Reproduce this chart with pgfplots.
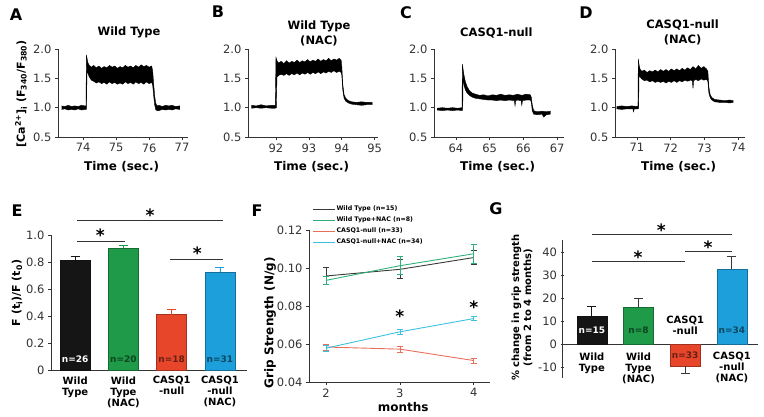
\documentclass[border=0pt]{standalone}
\usepackage{pgfplots}
\pgfplotsset{compat=1.18}
\usepackage{fontspec}
\setmainfont{DejaVu Sans}

\definecolor{barblack}{HTML}{151515}
\definecolor{bargreen}{HTML}{1E9A48}
\definecolor{barred}{HTML}{E8462A}
\definecolor{barblue}{HTML}{1D9FDB}
\definecolor{axgray}{HTML}{333333}
\definecolor{lnwt}{HTML}{3A3A3A}
\definecolor{lnnac}{HTML}{2FB07A}
\definecolor{lnko}{HTML}{E8705A}
\definecolor{lnkonac}{HTML}{3EC0E0}

\tikzset{
  sig/.style={axgray, line width=0.8pt},
  star/.style={font=\bfseries\fontsize{17}{17}\selectfont, inner sep=0pt},
  nlab/.style={font=\bfseries\fontsize{9}{10}\selectfont},
  catlab/.style={font=\bfseries\fontsize{10}{11}\selectfont, align=center, text=black},
}
\pgfplotsset{
  panel/.style={
    scale only axis, clip=false, enlargelimits=false,
    axis lines=left, axis line style={axgray, line width=0.8pt, -},
    tick style={axgray, line width=0.7pt}, tick align=outside, major tick length=3pt,
    tick label style={font=\fontsize{11.5}{12}\selectfont, text=black!80},
    /pgf/number format/assume math mode=true,
    label style={font=\bfseries\fontsize{12}{13}\selectfont},
  },
  trace/.style={
    panel, width=130pt, height=88pt, ymin=0.5, ymax=2.0,
    ytick={0.5,1.0,1.5,2.0},
    yticklabel style={/pgf/number format/.cd, fixed, fixed zerofill, precision=1},
    xlabel={Time (sec.)},
    xlabel style={at={(axis description cs:0.49,-0.34)}, anchor=center},
    every axis title shift=0pt,
    title style={font=\bfseries\fontsize{11.5}{15}\selectfont, align=center, anchor=center, yshift=-1pt},
  },
}

\begin{document}
\begin{tikzpicture}
\useasboundingbox (0,0) rectangle (764pt,416pt);

% panel letters
\node[font=\bfseries\fontsize{16}{16}\selectfont] at (16pt,401pt) {A};
\node[font=\bfseries\fontsize{16}{16}\selectfont] at (218pt,404pt) {B};
\node[font=\bfseries\fontsize{16}{16}\selectfont] at (406pt,403pt) {C};
\node[font=\bfseries\fontsize{16}{16}\selectfont] at (586pt,403pt) {D};
\node[font=\bfseries\fontsize{16}{16}\selectfont] at (17pt,205pt) {E};
\node[font=\bfseries\fontsize{16}{16}\selectfont] at (257pt,205pt) {F};
\node[font=\bfseries\fontsize{16}{16}\selectfont] at (496pt,207pt) {G};

% ---- A
\begin{axis}[trace, at={(58pt,279pt)}, anchor=south west,
  xmin=73.24, xmax=77.18, xtick={74,75,76,77},
  title={Wild Type}, title style={at={(axis description cs:0.546,1.205)}},
  ylabel={[Ca\textsuperscript{2+}]\textsubscript{i} (F\textsubscript{340}/F\textsubscript{380})},
  ylabel style={at={(axis description cs:-0.285,0.49)}, anchor=center, font=\bfseries\fontsize{11}{12}\selectfont}]
\addplot[black, fill=black, line width=0.4pt] coordinates {
(73.35,1.03) (73.45,1.02) (73.55,1.04) (73.65,1.02) (73.75,1.03) (73.85,1.02) (73.95,1.04) (74.05,1.03) (74.09,1.03)
(74.10,1.90) (74.12,1.84) (74.15,1.76) (74.19,1.72)
(74.25,1.69) (74.32,1.72) (74.40,1.68) (74.48,1.71) (74.56,1.67) (74.64,1.70) (74.72,1.68) (74.80,1.72) (74.88,1.69)
(74.96,1.71) (75.04,1.67) (75.12,1.70) (75.20,1.68) (75.28,1.72) (75.36,1.69) (75.44,1.71) (75.52,1.68) (75.60,1.72)
(75.68,1.69) (75.76,1.73) (75.84,1.70) (75.92,1.72) (76.00,1.69) (76.08,1.71)
(76.11,1.62) (76.14,1.40) (76.17,1.20) (76.20,1.08) (76.24,1.03) (76.30,1.04) (76.40,1.02) (76.50,1.04) (76.60,1.03)
(76.70,1.04) (76.80,1.02) (76.93,1.03)
(76.93,0.97) (76.80,0.98) (76.70,0.96) (76.60,0.97) (76.50,0.96) (76.40,0.97) (76.30,0.95) (76.24,0.95) (76.20,0.97)
(76.17,1.05) (76.14,1.20) (76.11,1.38) (76.08,1.43)
(76.00,1.41) (75.92,1.44) (75.84,1.40) (75.76,1.43) (75.68,1.41) (75.60,1.44) (75.52,1.40) (75.44,1.43) (75.36,1.41)
(75.28,1.44) (75.20,1.40) (75.12,1.42) (75.04,1.40) (74.96,1.43) (74.88,1.41) (74.80,1.44) (74.72,1.40) (74.64,1.43)
(74.56,1.41) (74.48,1.44) (74.40,1.42) (74.32,1.45) (74.25,1.47) (74.19,1.52) (74.15,1.58) (74.12,1.62)
(74.10,0.97) (74.05,0.97) (73.95,0.96) (73.85,0.98) (73.75,0.96) (73.65,0.97) (73.55,0.96) (73.45,0.98) (73.35,0.97)};
\end{axis}

% ---- B
\begin{axis}[trace, at={(248pt,279pt)}, anchor=south west,
  xmin=91.15, xmax=95.1, xtick={92,93,94,95},
  title={Wild Type\\(NAC)}, title style={at={(axis description cs:0.546,1.19)}}]
\addplot[black, fill=black, line width=0.4pt] coordinates {
(91.25,1.04) (91.4,1.03) (91.55,1.05) (91.7,1.03) (91.85,1.04) (91.98,1.04)
(92.0,1.86) (92.03,1.80) (92.08,1.76) (92.16,1.79) (92.24,1.75) (92.32,1.80) (92.40,1.76) (92.48,1.79) (92.56,1.77)
(92.64,1.81) (92.72,1.77) (92.80,1.80) (92.88,1.78) (92.96,1.82) (93.04,1.78) (93.12,1.81) (93.20,1.79) (93.28,1.83)
(93.36,1.79) (93.44,1.82) (93.52,1.80) (93.60,1.84) (93.68,1.80) (93.76,1.83) (93.84,1.81) (93.92,1.84) (93.98,1.81)
(94.0,1.70) (94.03,1.40) (94.07,1.22) (94.12,1.16) (94.2,1.12) (94.3,1.10) (94.45,1.09) (94.6,1.10) (94.75,1.09) (94.92,1.09)
(94.92,1.05) (94.75,1.05) (94.6,1.04) (94.45,1.05) (94.3,1.06) (94.2,1.08) (94.12,1.11) (94.07,1.16) (94.03,1.30)
(94.0,1.55) (93.98,1.60) (93.92,1.62) (93.84,1.60) (93.76,1.63) (93.68,1.60) (93.60,1.62) (93.52,1.59) (93.44,1.61)
(93.36,1.58) (93.28,1.61) (93.20,1.58) (93.12,1.60) (93.04,1.57) (92.96,1.60) (92.88,1.57) (92.80,1.59) (92.72,1.56)
(92.64,1.59) (92.56,1.56) (92.48,1.58) (92.40,1.55) (92.32,1.58) (92.24,1.55) (92.16,1.57) (92.08,1.55) (92.03,1.52)
(92.01,1.00) (91.98,0.99) (91.85,0.99) (91.7,1.00) (91.55,0.99) (91.4,1.00) (91.25,0.99)};
\end{axis}

% ---- C
\begin{axis}[trace, at={(434pt,279pt)}, anchor=south west,
  xmin=63.35, xmax=67.2, xtick={64,65,66,67},
  title={CASQ1-null}, title style={at={(axis description cs:0.48,1.19)}}]
\addplot[black, fill=black, line width=0.4pt] coordinates {
(63.44,0.99) (63.6,1.00) (63.75,0.99) (63.9,1.00) (64.05,0.99) (64.18,1.00)
(64.19,1.74) (64.21,1.66) (64.24,1.55) (64.28,1.44) (64.33,1.36) (64.40,1.29) (64.48,1.25) (64.58,1.23) (64.70,1.21)
(64.82,1.22) (64.95,1.20) (65.08,1.22) (65.20,1.21) (65.32,1.23) (65.45,1.21) (65.58,1.22) (65.70,1.21) (65.82,1.23)
(65.95,1.21) (66.08,1.23) (66.2,1.22) (66.23,1.18) (66.26,1.05) (66.3,0.95) (66.4,0.93) (66.55,0.94) (66.68,0.93) (66.8,0.94)
(66.8,0.89) (66.68,0.88) (66.6,0.84) (66.55,0.89) (66.4,0.88) (66.3,0.89) (66.26,0.95) (66.23,1.10) (66.2,1.13)
(66.08,1.13) (65.97,1.12) (65.95,1.04) (65.93,1.12) (65.82,1.13) (65.77,1.12) (65.75,1.03) (65.73,1.12) (65.58,1.13)
(65.45,1.12) (65.32,1.13) (65.20,1.12) (65.08,1.13) (64.95,1.13) (64.82,1.14) (64.70,1.15) (64.58,1.16) (64.48,1.18)
(64.40,1.21) (64.33,1.25) (64.28,1.30) (64.24,1.38) (64.21,1.50)
(64.20,0.96) (64.18,0.95) (64.05,0.96) (63.9,0.95) (63.75,0.96) (63.6,0.95) (63.44,0.96)};
\end{axis}

% ---- D
\begin{axis}[trace, at={(615pt,279pt)}, anchor=south west,
  xmin=70.35, xmax=74.2, xtick={71,72,73,74},
  title={CASQ1-null\\(NAC)}, title style={at={(axis description cs:0.52,1.2)}}]
\addplot[black, fill=black, line width=0.4pt] coordinates {
(70.4,1.02) (70.55,1.03) (70.7,1.02) (70.85,1.03) (71.0,1.02) (71.03,1.03)
(71.04,1.83) (71.06,1.74) (71.09,1.66) (71.14,1.62) (71.22,1.64) (71.30,1.60) (71.38,1.63) (71.46,1.61) (71.54,1.64)
(71.62,1.61) (71.70,1.65) (71.78,1.62) (71.86,1.65) (71.94,1.62) (72.02,1.66) (72.10,1.63) (72.18,1.66) (72.26,1.63)
(72.34,1.67) (72.42,1.64) (72.50,1.68) (72.58,1.65) (72.66,1.70) (72.74,1.66) (72.82,1.72) (72.90,1.67) (72.98,1.70)
(73.06,1.66) (73.10,1.62) (73.13,1.35) (73.17,1.22) (73.22,1.17) (73.3,1.14) (73.45,1.13) (73.6,1.12) (73.75,1.13) (73.85,1.12)
(73.85,1.09) (73.75,1.08) (73.6,1.09) (73.45,1.09) (73.3,1.10) (73.22,1.13) (73.17,1.17) (73.13,1.25) (73.10,1.45)
(73.06,1.48) (72.98,1.47) (72.90,1.49) (72.82,1.46) (72.74,1.48) (72.68,1.46) (72.66,1.33) (72.64,1.46) (72.58,1.47)
(72.50,1.45) (72.42,1.47) (72.34,1.44) (72.26,1.46) (72.18,1.43) (72.10,1.46) (72.02,1.43) (71.94,1.45) (71.86,1.42)
(71.78,1.45) (71.70,1.43) (71.62,1.45) (71.54,1.43) (71.46,1.46) (71.38,1.44) (71.30,1.47) (71.22,1.46) (71.14,1.49)
(71.09,1.52) (71.06,1.56) (71.05,0.99) (71.03,0.98) (70.92,0.98) (70.90,0.93) (70.88,0.98) (70.7,0.98) (70.55,0.97) (70.4,0.98)};
\end{axis}

% ---- E
\begin{axis}[panel, at={(51pt,46pt)}, anchor=south west,
  width=196pt, height=135pt, xmin=-0.5, xmax=3.56, ymin=0, ymax=1.0,
  ytick={0,0.2,0.4,0.6,0.8,1.0}, yticklabels={0,0.2,0.4,0.6,0.8,1.0},
  xtick={0,1,2,3}, xtick style={draw=none},
  xticklabels={Wild\\Type, Wild\\Type\\(NAC), CASQ1\\-null, CASQ1\\-null\\(NAC)},
  xticklabel style={catlab},
  ylabel={F (t\textsubscript{i})/F (t\textsubscript{0})},
  ylabel style={at={(axis description cs:-0.173,0.57)}, anchor=center, font=\bfseries\fontsize{11}{12}\selectfont},
  ybar, bar width=0.62, bar shift=0pt]
\addplot[fill=barblack, draw=barblack!80!black, line width=0.6pt,
  error bars/.cd, y dir=plus, y explicit,
  error bar style={barblack, line width=0.8pt}, error mark options={rotate=90, mark size=4.5pt, barblack, line width=0.8pt}]
  coordinates {(0,0.815) +- (0,0.025)};
\addplot[fill=bargreen, draw=bargreen!70!black, line width=0.6pt,
  error bars/.cd, y dir=plus, y explicit,
  error bar style={bargreen, line width=0.8pt}, error mark options={rotate=90, mark size=4.5pt, bargreen, line width=0.8pt}]
  coordinates {(1,0.905) +- (0,0.017)};
\addplot[fill=barred, draw=barred!70!black, line width=0.6pt,
  error bars/.cd, y dir=plus, y explicit,
  error bar style={barred, line width=0.8pt}, error mark options={rotate=90, mark size=4.5pt, barred, line width=0.8pt}]
  coordinates {(2,0.41) +- (0,0.04)};
\addplot[fill=barblue, draw=barblue!70!black, line width=0.6pt,
  error bars/.cd, y dir=plus, y explicit,
  error bar style={barblue, line width=0.8pt}, error mark options={rotate=90, mark size=4.5pt, barblue, line width=0.8pt}]
  coordinates {(3,0.725) +- (0,0.037)};
\node[nlab, text=white] at (axis cs:0,0.081) {n=26};
\node[nlab, text=bargreen!45!black] at (axis cs:1,0.081) {n=20};
\node[nlab, text=barred!45!black] at (axis cs:2,0.081) {n=18};
\node[nlab, text=barblue!45!black] at (axis cs:3,0.081) {n=31};
\draw[sig] (axis cs:0.04,1.111) -- (axis cs:3.06,1.111);
\draw[sig] (axis cs:0.04,0.956) -- (axis cs:1.04,0.956);
\draw[sig] (axis cs:1.97,0.822) -- (axis cs:3.06,0.822);
\node[star] at (axis cs:1.55,1.15) {*};
\node[star] at (axis cs:0.52,1.0) {*};
\node[star] at (axis cs:2.53,0.865) {*};
\end{axis}

% ---- F
\begin{axis}[panel, at={(309pt,34pt)}, anchor=south west,
  width=181pt, height=152pt, xmin=1.77, xmax=4.22, ymin=0.04, ymax=0.12,
  xtick={2,3,4}, ytick={0.04,0.06,0.08,0.10,0.12},
  yticklabel style={/pgf/number format/.cd, fixed, fixed zerofill, precision=2},
  xlabel={months}, xlabel style={at={(axis description cs:0.52,-0.165)}, anchor=center},
  ylabel={Grip Strength (N/g)},
  ylabel style={at={(axis description cs:-0.215,0.39)}, anchor=center},
  legend style={at={(axis description cs:0.02,1.165)}, anchor=north west, draw=none, fill=none,
    font=\bfseries\fontsize{6.3}{7}\selectfont, row sep=3.2pt, inner sep=0pt, nodes={inner sep=0.8pt}},
  legend cell align=left,
  legend image code/.code={\draw[#1] (0pt,0pt) -- (22pt,0pt);}]
\addplot[lnwt, line width=0.9pt, mark=none,
  error bars/.cd, y dir=both, y explicit,
  error bar style={lnwt, line width=0.7pt}, error mark options={rotate=90, mark size=3.2pt, lnwt, line width=0.7pt}]
  coordinates {(2,0.0958) +- (0,0.0043) (3,0.0993) +- (0,0.005) (4,0.1055) +- (0,0.0038)};
\addplot[lnnac, line width=0.9pt, mark=none,
  error bars/.cd, y dir=both, y explicit,
  error bar style={lnnac, line width=0.7pt}, error mark options={rotate=90, mark size=3.2pt, lnnac, line width=0.7pt}]
  coordinates {(2,0.0935) +- (0,0.002) (3,0.1012) +- (0,0.0048) (4,0.1075) +- (0,0.0052)};
\addplot[lnko, line width=0.9pt, mark=none,
  error bars/.cd, y dir=both, y explicit,
  error bar style={lnko, line width=0.7pt}, error mark options={rotate=90, mark size=3.2pt, lnko, line width=0.7pt}]
  coordinates {(2,0.0584) +- (0,0.0015) (3,0.0573) +- (0,0.0015) (4,0.0513) +- (0,0.0013)};
\addplot[lnkonac, line width=0.9pt, mark=none,
  error bars/.cd, y dir=both, y explicit,
  error bar style={lnkonac, line width=0.7pt}, error mark options={rotate=90, mark size=3.2pt, lnkonac, line width=0.7pt}]
  coordinates {(2,0.0578) +- (0,0.0015) (3,0.0664) +- (0,0.0012) (4,0.0734) +- (0,0.0012)};
\legend{Wild Type (n=15), Wild Type+NAC (n=8), CASQ1-null (n=33), CASQ1-null+NAC (n=34)}
\node[star] at (axis cs:3,0.0745) {*};
\node[star] at (axis cs:4,0.0795) {*};
\end{axis}

% ---- G
\begin{axis}[panel, at={(562pt,38pt)}, anchor=south west,
  width=196pt, height=138pt, xmin=-0.64, xmax=3.56, ymin=-14.8, ymax=45.2,
  axis x line=middle, axis y line=left, axis line style={-},
  hide obscured x ticks=false, hide obscured y ticks=false,
  ytick={-10,0,10,20,30,40}, yticklabels={-10,0,10,20,30,40},
  xtick={0,1,3}, xtick style={draw=none},
  xticklabels={Wild\\Type, Wild\\Type\\(NAC), CASQ1\\-null\\(NAC)},
  xticklabel style={catlab, yshift=-2pt},
  ylabel={\% change in grip strength\\(from 2 to 4 months)},
  ylabel style={at={(axis description cs:-0.204,0.51)}, anchor=center, align=center,
    font=\bfseries\fontsize{10}{12}\selectfont},
  ybar, bar width=0.64, bar shift=0pt]
\addplot[fill=barblack, draw=barblack!80!black, line width=0.6pt,
  error bars/.cd, y dir=plus, y explicit,
  error bar style={barblack, line width=0.8pt}, error mark options={rotate=90, mark size=4.5pt, barblack, line width=0.8pt}]
  coordinates {(0,12) +- (0,4.5)};
\addplot[fill=bargreen, draw=bargreen!70!black, line width=0.6pt,
  error bars/.cd, y dir=plus, y explicit,
  error bar style={barblack!85, line width=0.8pt}, error mark options={rotate=90, mark size=4.5pt, barblack!85, line width=0.8pt}]
  coordinates {(1,15.9) +- (0,4)};
\addplot[fill=barred, draw=barred!70!black, line width=0.6pt,
  error bars/.cd, y dir=minus, y explicit,
  error bar style={barblack!85, line width=0.8pt}, error mark options={rotate=90, mark size=4.5pt, barblack!85, line width=0.8pt}]
  coordinates {(2,-9.6) +- (0,3.4)};
\addplot[fill=barblue, draw=barblue!70!black, line width=0.6pt,
  error bars/.cd, y dir=plus, y explicit,
  error bar style={barblack!85, line width=0.8pt}, error mark options={rotate=90, mark size=4.5pt, barblack!85, line width=0.8pt}]
  coordinates {(3,32.6) +- (0,5.4)};
\node[nlab, text=white] at (axis cs:0,6.1) {n=15};
\node[nlab, text=bargreen!45!black] at (axis cs:1,6.1) {n=8};
\node[nlab, text=barred!45!black] at (axis cs:2,-4.8) {n=33};
\node[nlab, text=barblue!45!black] at (axis cs:3,6.1) {n=34};
\node[catlab] at (axis cs:2,8.3) {CASQ1\\-null};
\draw[sig] (axis cs:0,47.7) -- (axis cs:3,47.7);
\draw[sig] (axis cs:0,35.8) -- (axis cs:2,35.8);
\draw[sig] (axis cs:2,40.1) -- (axis cs:3,40.1);
\node[star] at (axis cs:1.49,49.3) {*};
\node[star] at (axis cs:0.99,37.7) {*};
\node[star] at (axis cs:2.49,42) {*};
\end{axis}
\end{tikzpicture}
\end{document}
